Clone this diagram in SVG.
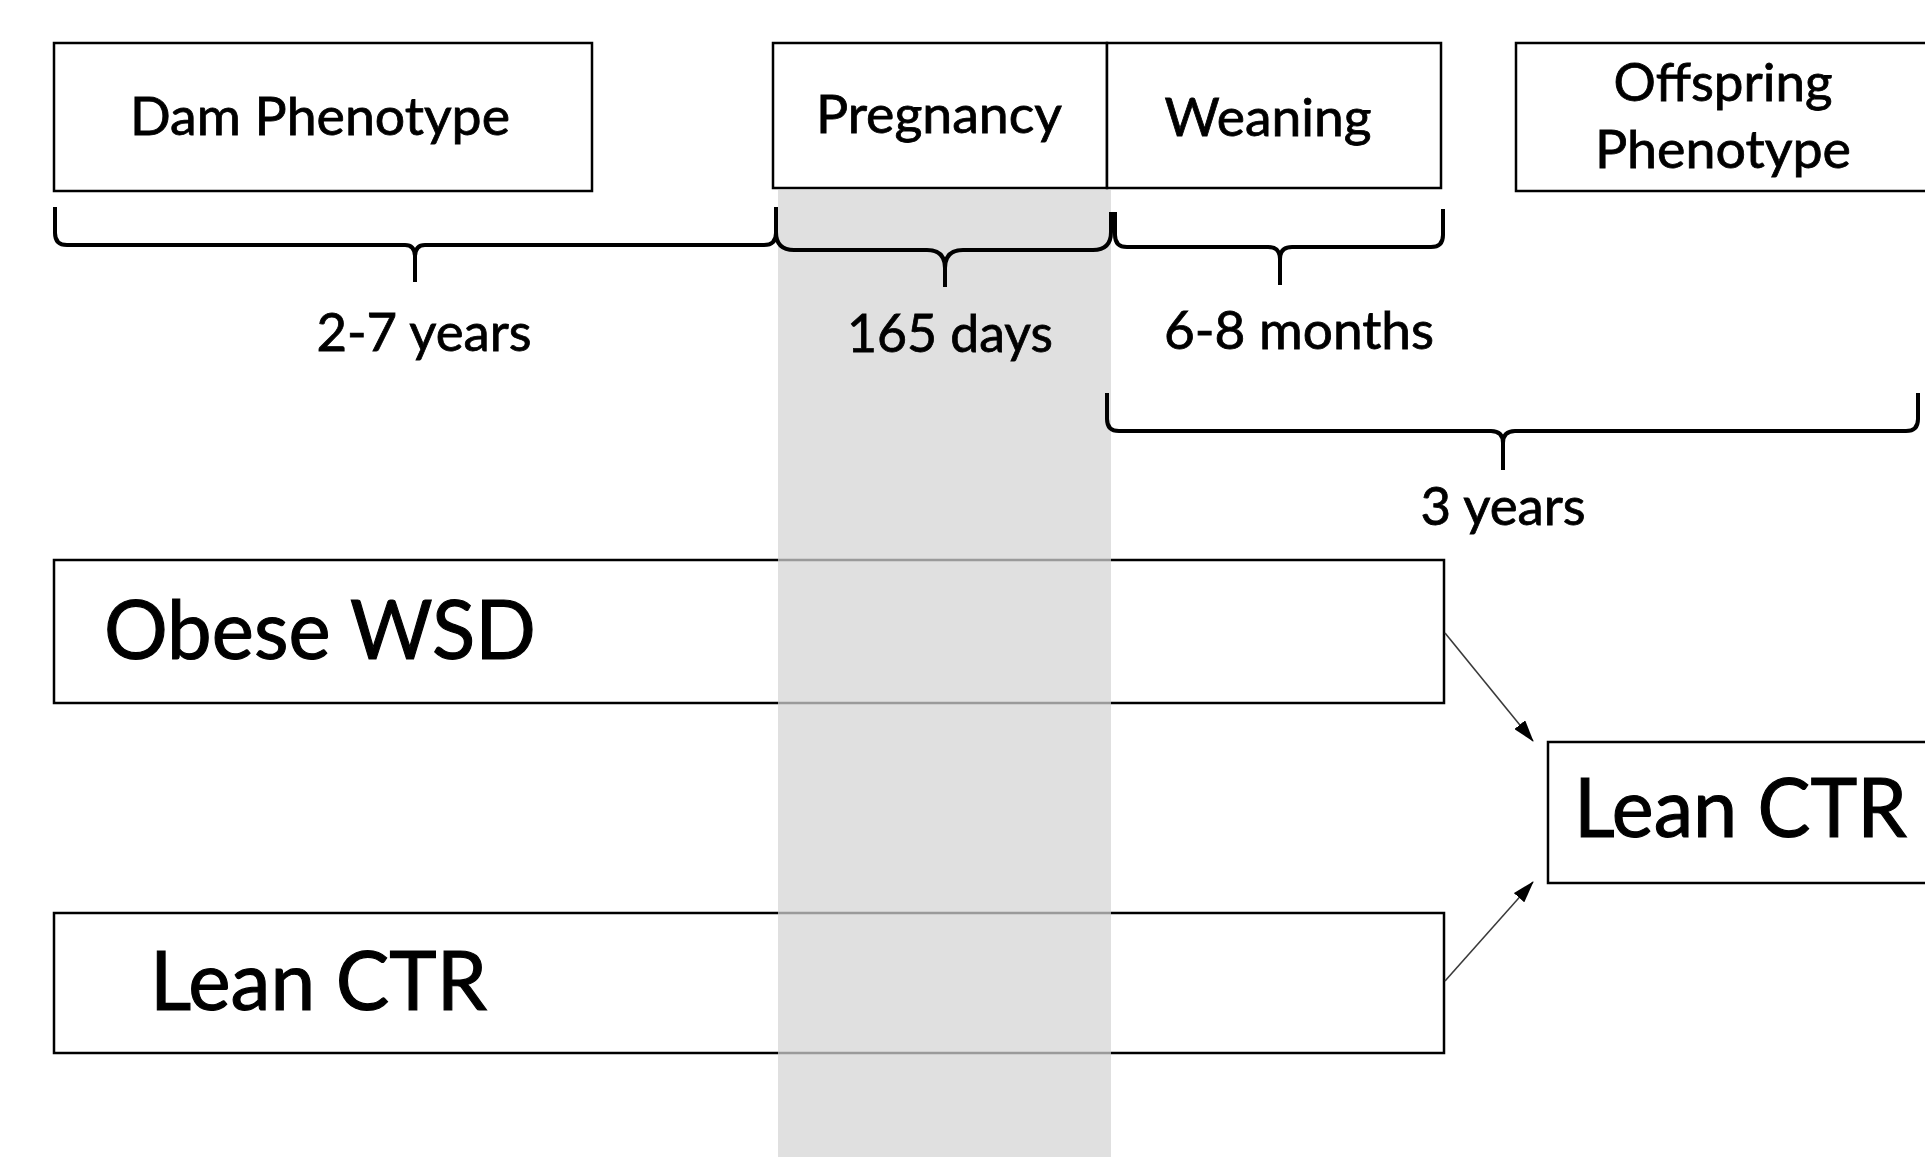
<svg xmlns="http://www.w3.org/2000/svg" width="1925" height="1157" viewBox="0 0 1925 1157">
  <style>
    .box { fill: #ffffff; stroke: #000000; stroke-width: 2.5; }
    .brace { fill: none; stroke: #000000; stroke-width: 4; stroke-linejoin: round; }
    .lbl { font-family: Lato, "Open Sans", "Liberation Sans", sans-serif; font-size: 52px; fill: #000000; stroke: #000000; stroke-width: 0.8; }
    .big { font-family: Lato, "Open Sans", "Liberation Sans", sans-serif; font-size: 81px; fill: #000000; stroke: #000000; stroke-width: 1.1; }
    .conn { stroke: #3a3a3a; stroke-width: 1.6; fill: none; }
  </style>
  <defs>
    <marker id="arrow" viewBox="0 0 22 14" refX="21" refY="7" markerWidth="22" markerHeight="14" markerUnits="userSpaceOnUse" orient="auto">
      <path d="M0,0 L22,7 L0,14 z" fill="#000000"/>
    </marker>
  </defs>
  <rect x="0" y="0" width="1925" height="1157" fill="#ffffff"/>

  <g id="dam-phenotype">
    <rect class="box" x="54" y="43" width="538" height="148"/>
    <text class="lbl" x="320" y="135" text-anchor="middle" textLength="380" lengthAdjust="spacingAndGlyphs">Dam Phenotype</text>
  </g>
  <g id="pregnancy">
    <rect class="box" x="773" y="43" width="334" height="145"/>
    <text class="lbl" x="939" y="133" text-anchor="middle" textLength="246" lengthAdjust="spacingAndGlyphs">Pregnancy</text>
  </g>
  <g id="weaning">
    <rect class="box" x="1107" y="43" width="334" height="145"/>
    <text class="lbl" x="1268" y="136" text-anchor="middle" textLength="207" lengthAdjust="spacingAndGlyphs">Weaning</text>
  </g>
  <g id="offspring-phenotype">
    <rect class="box" x="1516" y="43" width="430" height="148"/>
    <text class="lbl" x="1723" y="101" text-anchor="middle" textLength="219" lengthAdjust="spacingAndGlyphs">Offspring</text>
    <text class="lbl" x="1723" y="168" text-anchor="middle" textLength="256" lengthAdjust="spacingAndGlyphs">Phenotype</text>
  </g>
  <g id="obese-wsd">
    <rect class="box" x="54" y="560" width="1390" height="143"/>
    <text class="big" x="104" y="659" textLength="432" lengthAdjust="spacingAndGlyphs">Obese WSD</text>
  </g>
  <g id="lean-ctr-dam">
    <rect class="box" x="54" y="913" width="1390" height="140"/>
    <text class="big" x="150" y="1010" textLength="337" lengthAdjust="spacingAndGlyphs">Lean CTR</text>
  </g>
  <g id="lean-ctr-offspring">
    <rect class="box" x="1548" y="742" width="400" height="141"/>
    <text class="big" x="1574" y="837" textLength="333" lengthAdjust="spacingAndGlyphs">Lean CTR</text>
  </g>

  <g id="pregnancy-band">
    <rect x="778" y="190" width="333" height="967" fill="#d4d4d4" fill-opacity="0.725"/>
  </g>

  <g id="timeline-braces">
    <g id="brace-dam">
      <path class="brace" d="M55,207 L55,233 Q55,245 67,245 L405,245 Q415,245 415,257 L415,282 M415,257 Q415,245 425,245 L764,245 Q776,245 776,233 L776,207"/>
      <text class="lbl" x="424" y="351" text-anchor="middle" textLength="215" lengthAdjust="spacingAndGlyphs">2-7 years</text>
    </g>
    <g id="brace-pregnancy">
      <path class="brace" d="M776,209 L776,232 Q776,250 794,250 L927,250 Q945,250 945,268 L945,287 M945,268 Q945,250 963,250 L1093,250 Q1111,250 1111,232 L1111,212"/>
      <text class="lbl" x="950" y="352" text-anchor="middle" textLength="206" lengthAdjust="spacingAndGlyphs">165 days</text>
    </g>
    <g id="brace-weaning">
      <path class="brace" d="M1115,212 L1115,235 Q1115,247 1127,247 L1268,247 Q1280,247 1280,259 L1280,285 M1280,259 Q1280,247 1292,247 L1431,247 Q1443,247 1443,235 L1443,209"/>
      <text class="lbl" x="1299" y="349" text-anchor="middle" textLength="270" lengthAdjust="spacingAndGlyphs">6-8 months</text>
    </g>
    <g id="brace-offspring">
      <path class="brace" d="M1107,393 L1107,419 Q1107,431 1119,431 L1491,431 Q1503,431 1503,443 L1503,470 M1503,443 Q1503,431 1515,431 L1906,431 Q1918,431 1918,419 L1918,393"/>
      <text class="lbl" x="1503" y="525" text-anchor="middle" textLength="165" lengthAdjust="spacingAndGlyphs">3 years</text>
    </g>
  </g>

  <g id="connectors">
    <line class="conn" x1="1445" y1="633" x2="1533" y2="741" marker-end="url(#arrow)"/>
    <line class="conn" x1="1445" y1="981" x2="1533" y2="882" marker-end="url(#arrow)"/>
  </g>
</svg>
